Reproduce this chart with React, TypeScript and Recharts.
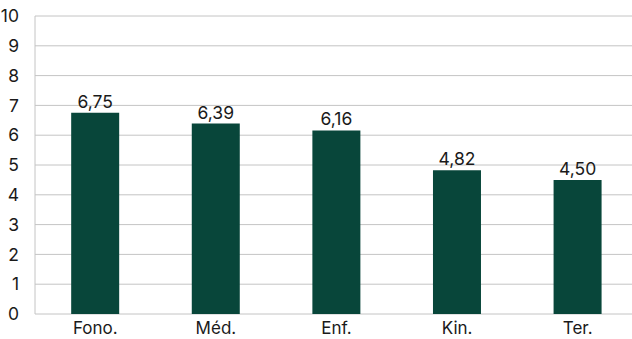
import React from 'react';
import { BarChart, Bar, XAxis, YAxis, CartesianGrid, LabelList } from 'recharts';

// categorías y valores medios
const categories = ['Fono.', 'Méd.', 'Enf.', 'Kin.', 'Ter.'];
const values = [6.75, 6.39, 6.16, 4.82, 4.5];
const yTicks = [0, 1, 2, 3, 4, 5, 6, 7, 8, 9, 10];

const data = categories.map((name, i) => ({ name, value: values[i] }));

const FONT = 'Inter, "Noto Sans", sans-serif';
const fmt = (v: number) => v.toFixed(2).replace('.', ',');

export default function App() {
  return (
    <div style={{ position: 'absolute', left: 0, top: 0, width: 632, height: 339, overflow: 'hidden', background: '#fff' }}>
      <BarChart
        width={638}
        height={339}
        data={data}
        margin={{ top: 16, right: 0, bottom: 0, left: 0 }}
        barCategoryGap="30%"
      >
        <CartesianGrid vertical={false} stroke="#c4c4c4" />
        <XAxis
          dataKey="name"
          axisLine={false}
          tickLine={false}
          height={25}
          tick={{ fill: '#1a1a1a', fontSize: 17, fontFamily: FONT }}
          tickMargin={2}
        />
        <YAxis
          domain={[0, 10]}
          ticks={yTicks}
          width={35}
          axisLine={{ stroke: '#c4c4c4' }}
          tickLine={false}
          interval={0}
          tick={{ fill: '#1a1a1a', fontSize: 17.5, fontFamily: FONT }}
          tickMargin={10}
        />
        <Bar dataKey="value" fill="#08463a" isAnimationActive={false}>
          <LabelList
            dataKey="value"
            position="top"
            offset={5}
            formatter={(v: number) => fmt(v)}
            style={{ fill: '#1a1a1a', fontSize: 17.5, fontFamily: FONT }}
          />
        </Bar>
      </BarChart>
    </div>
  );
}
